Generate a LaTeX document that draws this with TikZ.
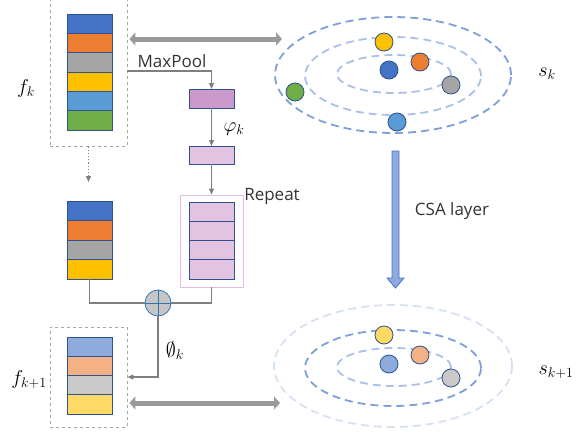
\RequirePackage{fix-cm}
\documentclass[tikz,border=0pt]{standalone}
\usepackage{fontspec}
\setsansfont{Open Sans}
\usepackage{amsmath}
\usepackage{amssymb}
\usepackage{tikz}
\usetikzlibrary{positioning,shapes,arrows.meta,calc}
\definecolor{cellline}{HTML}{2F528F}
\definecolor{cblue}{HTML}{4472C4}
\definecolor{corange}{HTML}{ED7D31}
\definecolor{cgray}{HTML}{A5A5A5}
\definecolor{cyellow}{HTML}{FFC000}
\definecolor{clblue}{HTML}{5B9BD5}
\definecolor{cgreen}{HTML}{70AD47}
\definecolor{pblue}{HTML}{8FAADC}
\definecolor{porange}{HTML}{F4B183}
\definecolor{pgray}{HTML}{C9C9C9}
\definecolor{pyellow}{HTML}{FFD966}
\definecolor{mauve}{HTML}{CC99CC}
\definecolor{lilac}{HTML}{E2C3E1}
\definecolor{pinkline}{HTML}{EBB8EB}
\definecolor{ringdark}{HTML}{7F9FD8}
\definecolor{ringmid}{HTML}{A9C0E8}
\definecolor{ringlight}{HTML}{D6E0F3}
\definecolor{linegray}{HTML}{7F7F7F}
\definecolor{widegray}{HTML}{9A9A9A}
\definecolor{plusline}{HTML}{2E75B6}

\tikzset{
  cell/.style={draw=cellline, line width=0.8pt, minimum width=45pt, minimum height=19.3pt, inner sep=0pt, outer sep=0pt},
  ball/.style={circle, draw=cellline, line width=0.8pt, minimum size=18pt, inner sep=0pt},
  ring/.style={dash pattern=on 8pt off 5pt, line width=1.8pt},
  link/.style={linegray, line width=1.2pt},
  tip/.style={-{Triangle[length=6pt,width=5pt]}},
  wide/.style={widegray, line width=5pt, {Triangle[length=6pt,width=13pt]}-{Triangle[length=6pt,width=13pt]}},
  frame/.style={draw=gray!70, dashed, line width=0.8pt, inner sep=0pt, minimum width=77pt},
  txt/.style={font=\sffamily\fontsize{17}{20}\selectfont, text=black!80},
  mtxt/.style={font=\fontsize{20}{24}\selectfont}
}

\begin{document}
\begin{tikzpicture}[x=1pt, y=-1pt]
  \useasboundingbox (0,0) rectangle (584,434);
  \clip (0,0) rectangle (584,434);

  \node[frame, minimum height=150pt] (topbox) at (88.5,71) {};
  \node[frame, minimum height=100pt] (botbox) at (88.5,377) {};
  \foreach \c [count=\i] in {cblue,corange,cgray,cyellow,clblue,cgreen}
  {
    \node[cell, fill=\c] (a\i) at (89.5,4.37+19.33*\i) {};
  }
  \foreach \c [count=\i] in {cblue,corange,cgray,cyellow}
  {
    \node[cell, minimum height=19.5pt, fill=\c] (b\i) at (89.5,191.25+19.5*\i) {};
    \node[cell, minimum height=19.25pt, fill=lilac] (r\i) at (211.5,192.4+19.25*\i) {};
  }
  \foreach \c [count=\i] in {pblue,porange,pgray,pyellow}
  {
    \node[cell, minimum height=19.25pt, fill=\c] (c\i) at (89.5,327.4+19.25*\i) {};
  }
  \node[draw=pinkline, line width=0.8pt, minimum width=63pt, minimum height=92pt, inner sep=0pt] (rep) at (211.5,241) {};
  \node[cell, minimum height=19pt, fill=mauve] (pool) at (211.5,98.5) {};
  \node[cell, minimum height=18pt, fill=lilac] (phi) at (211.5,155) {};
  \node[circle, draw=plusline, fill=gray!45, line width=0.8pt, minimum size=26pt, inner sep=0pt,
    path picture={\draw[plusline, line width=0.8pt]
      (path picture bounding box.north) -- (path picture bounding box.south)
      (path picture bounding box.west) -- (path picture bounding box.east);}] (plus) at (158,303) {};

  \node[txt] (mp) at (172,61) {MaxPool};
  \node[mtxt] (lphi) at (234,129) {$\varphi_k$};
  \node[txt] (lrep) at (272,196) {Repeat};
  \node[mtxt] (lemp) at (175,350) {$\emptyset_k$};
  \node[mtxt] (lfk) at (26,88) {$f_k$};
  \node[mtxt] (lfkk) at (29,380) {$f_{k+1}$};
  \node[mtxt] (lsk) at (547,74) {$s_k$};
  \node[mtxt] (lskk) at (556,372) {$s_{k+1}$};
  \node[txt] (lcsa) at (452,211) {CSA layer};

  \coordinate (dotend) at (88.5,182);
  \coordinate (topend) at (282,39);
  \coordinate (botend) at (280,403);
  \draw[link, tip] (topbox.east) -| (pool.north);
  \draw[link, tip] (pool) -- (phi);
  \draw[link, tip] (phi) -- (rep);
  \draw[link, dotted, tip] (topbox.south) -- (dotend);
  \draw[link] (b4.south) |- (plus.west);
  \draw[link] (rep.south) |- (plus.east);
  \draw[link, tip] (plus.south) |- (botbox.east);
  \draw[wide, shorten <=2pt] (topbox.east |- topend) -- (topend);
  \draw[wide, shorten <=2pt] (botbox.east |- botend) -- (botend);

  \draw[ring, ringdark] (393,75) ellipse [x radius=118pt, y radius=58pt];
  \draw[ring, ringmid] (393,76) ellipse [x radius=88pt, y radius=39pt];
  \draw[ring, ringmid] (394,74) ellipse [x radius=57pt, y radius=19pt];
  \node[ball, fill=cyellow] (s1) at (384,42) {};
  \node[ball, fill=corange] (s2) at (420,62) {};
  \node[ball, fill=cblue] (s3) at (389,70) {};
  \node[ball, fill=cgray] (s4) at (451,85) {};
  \node[ball, fill=cgreen] (s5) at (295,92) {};
  \node[ball, fill=clblue] (s6) at (397,122) {};

  \draw[ring, ringlight] (393,366) ellipse [x radius=119pt, y radius=61pt];
  \draw[ring, ringdark] (393,368) ellipse [x radius=88pt, y radius=38pt];
  \draw[ring, ringmid] (394,367) ellipse [x radius=57pt, y radius=19pt];
  \node[ball, fill=pyellow] (t1) at (384,335) {};
  \node[ball, fill=porange] (t2) at (420,355) {};
  \node[ball, fill=pblue] (t3) at (389,364) {};
  \node[ball, fill=pgray] (t4) at (451,378) {};

  \draw[draw=cblue, fill=pblue, line width=0.8pt] (392,151) -- (399,151) -- (399,278) -- (404,278)
    -- (395.5,288) -- (387,278) -- (392,278) -- cycle;
\end{tikzpicture}
\end{document}
